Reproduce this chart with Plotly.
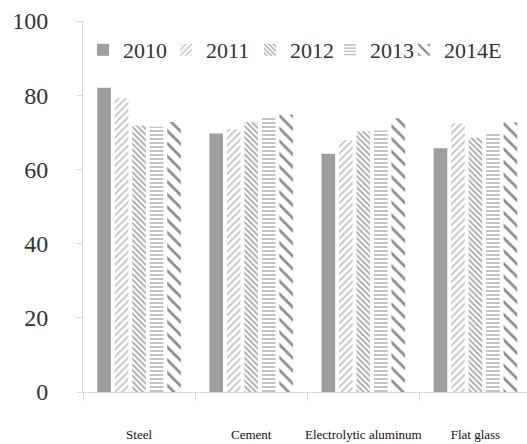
import plotly.graph_objects as go

categories = ["Steel", "Cement", "Electrolytic aluminum", "Flat glass"]
years = ["2010", "2011", "2012", "2013", "2014E"]

util_2010 = [82.0, 69.7, 64.2, 65.7]
util_2011 = [79.2, 70.8, 67.9, 72.4]
util_2012 = [71.8, 72.7, 70.2, 68.5]
util_2013 = [71.5, 74.0, 70.5, 70.0]
util_2014e = [72.8, 74.7, 73.8, 72.7]

series = [util_2010, util_2011, util_2012, util_2013, util_2014e]

# fill style per year: (colour, pattern shape, pattern size, solidity)
styles = [
    ("#9e9e9e", "", 0, 0),
    ("#c4c4c4", "/", 5, 0.35),
    ("#a6a6a6", "\\", 4, 0.45),
    ("#bdbdbd", "-", 4, 0.45),
    ("#8c8c8c", "\\", 9, 0.3),
]

# left edge (px) of each legend entry along the top row
legend_left_px = [83, 166, 250, 330, 404]

W, H = 527, 444
NUM_FONT = "Liberation Serif, serif"

fig = go.Figure()
legend_layout = {}
for i, (name, vals, (col, shape, size, sol)) in enumerate(zip(years, series, styles)):
    marker = dict(color=col, line=dict(width=0))
    if shape:
        marker = dict(
            color="white",
            line=dict(width=0),
            pattern=dict(shape=shape, fgcolor=col, bgcolor="white",
                         size=size, solidity=sol, fillmode="replace"),
        )
    lg = "legend" if i == 0 else f"legend{i + 1}"
    fig.add_trace(go.Bar(name=name, x=categories, y=vals, marker=marker, legend=lg))
    legend_layout[lg] = dict(
        orientation="h",
        xref="container", yref="container",
        x=legend_left_px[i] / W, xanchor="left",
        y=1 - 50 / H, yanchor="middle",
        font=dict(family=NUM_FONT, size=22, color="#333333"),
        itemwidth=30,
        bgcolor="rgba(0,0,0,0)",
    )

fig.update_layout(
    width=W,
    height=H,
    margin=dict(l=83, r=0, t=21, b=52, autoexpand=False),
    paper_bgcolor="white",
    plot_bgcolor="white",
    barmode="group",
    bargap=0.22,
    bargroupgap=0.22,
    showlegend=True,
    xaxis=dict(
        range=[-0.5, 3.46],
        showline=True, linecolor="#d9d9d9", linewidth=1,
        ticks="outside", tickson="boundaries", ticklen=8, tickcolor="#d9d9d9",
        tickangle=0,
        tickfont=dict(family="Liberation Serif, serif", size=13, color="#111111"),
        ticklabelstandoff=30,
        showgrid=False, zeroline=False,
    ),
    yaxis=dict(
        range=[0, 100],
        tickvals=[0, 20, 40, 60, 80, 100],
        showline=True, linecolor="#d9d9d9", linewidth=1,
        ticks="outside", ticklen=5, tickcolor="#d9d9d9",
        tickfont=dict(family=NUM_FONT, size=24, color="#333333"),
        ticklabelstandoff=24,
        showgrid=False, zeroline=False,
    ),
    **legend_layout,
)

fig.write_html("out.html")
